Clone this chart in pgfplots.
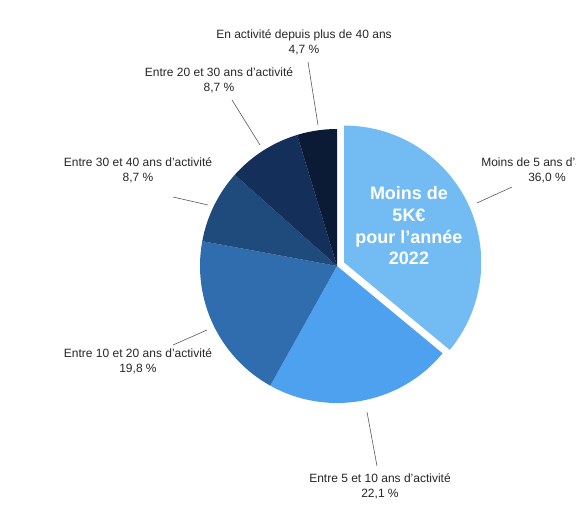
\documentclass[border=0pt]{standalone}
\usepackage{pgfplots}
\pgfplotsset{compat=1.18}
\usepackage{fontspec}
\setmainfont{Liberation Sans}
\definecolor{c1}{HTML}{72BBF3}
\definecolor{c2}{HTML}{4DA1EE}
\definecolor{c3}{HTML}{2F6DAF}
\definecolor{c4}{HTML}{1F4A7C}
\definecolor{c5}{HTML}{14305A}
\definecolor{c6}{HTML}{0B1A35}
\begin{document}
\begin{tikzpicture}
\useasboundingbox (0,0) rectangle (576pt,506pt);
\clip (0,0) rectangle (576pt,506pt);
\begin{axis}[
  at={(0,0)}, anchor=south west,
  scale only axis, width=576pt, height=506pt,
  xmin=0, xmax=576, ymin=0, ymax=506,
  enlargelimits=false, hide axis, clip=false,
]
\pgfplotsextra{
  \xdef\startang{90}
  \foreach \v/\c/\ex in {36.0/c1/8, 22.1/c2/0, 19.8/c3/0, 8.7/c4/0, 8.7/c5/0, 4.7/c6/0} {
    \pgfmathsetmacro\endang{\startang - 3.6*\v}
    \pgfmathsetmacro\midang{(\startang + \endang)/2}
    \pgfmathsetmacro\cx{337 + \ex*cos(\midang)}
    \pgfmathsetmacro\cy{240 + \ex*sin(\midang)}
    \fill[\c] (axis cs:\cx,\cy) -- ++(\startang:137pt) arc[start angle=\startang, end angle=\endang, radius=137pt] -- cycle;
    \xdef\startang{\endang}
  }
  \draw[gray!70!black, line width=0.6pt] (axis cs:308,444) -- (axis cs:318,381);
  \draw[gray!70!black, line width=0.6pt] (axis cs:232,406) -- (axis cs:260,361);
  \draw[gray!70!black, line width=0.6pt] (axis cs:173,309) -- (axis cs:208,301);
  \draw[gray!70!black, line width=0.6pt] (axis cs:173,161) -- (axis cs:207,176);
  \draw[gray!70!black, line width=0.6pt] (axis cs:367,94) -- (axis cs:377,40);
  \draw[gray!70!black, line width=0.6pt] (axis cs:477,303) -- (axis cs:512,319);
}
\begin{scope}[every node/.style={align=center, text=black!85, font=\fontsize{12}{15}\selectfont}]
\node at (axis cs:304,463.5) {En activité depuis plus de 40 ans\\4,7 \%};
\node at (axis cs:219,425.5) {Entre 20 et 30 ans d'activité\\8,7 \%};
\node at (axis cs:138,335.5) {Entre 30 et 40 ans d'activité\\8,7 \%};
\node at (axis cs:138,144.5) {Entre 10 et 20 ans d'activité\\19,8 \%};
\node at (axis cs:380,19.5) {Entre 5 et 10 ans d'activité\\22,1 \%};
\node at (axis cs:547,335.5) {Moins de 5 ans d'activité\\36,0 \%};
\end{scope}
\node[align=center, text=white, font=\bfseries\fontsize{18}{21.7}\selectfont] at (axis cs:409,280) {Moins de\\5K€\\pour l’année\\2022};
\end{axis}
\end{tikzpicture}
\end{document}
